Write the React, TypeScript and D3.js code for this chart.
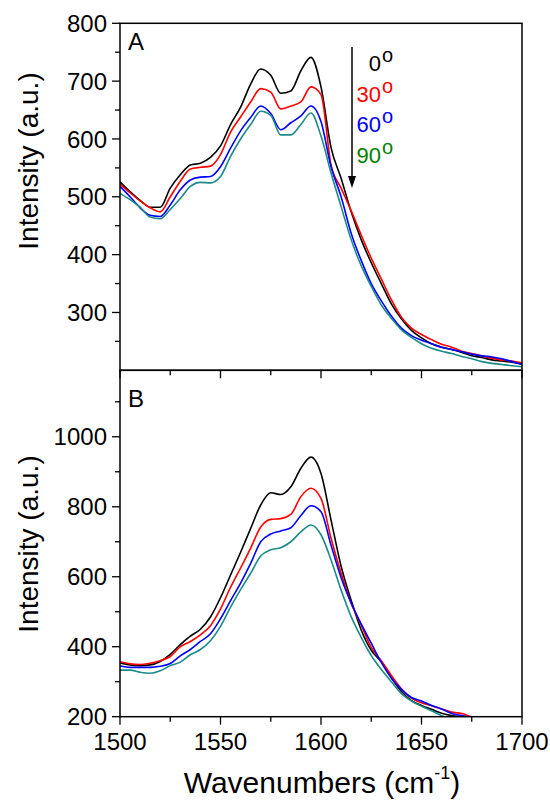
import React from 'react';
import * as d3 from 'd3';

// wavenumber grid (cm-1)
const wavenumbers = [
  1500, 1505, 1510, 1515, 1520, 1525, 1530, 1535, 1540, 1545,
  1550, 1555, 1560, 1565, 1570, 1575, 1580, 1585, 1590, 1595,
  1600, 1605, 1610, 1615, 1620, 1625, 1630, 1635, 1640, 1645,
  1650, 1655, 1660, 1665, 1670, 1675, 1680, 1685, 1690, 1695, 1700,
];

// panel A
const a0 = [
  526, 509, 494, 482, 482, 515, 538, 555, 558, 568,
  588, 625, 655, 695, 721, 710, 679, 683, 718, 741,
  690, 585, 532, 474, 426, 386, 350, 315, 289, 269,
  256, 246, 240, 236, 231, 225, 222, 218, 216, 214, 211,
];
const a30 = [
  522, 507, 493, 481, 474, 500, 527, 548, 551, 553,
  573, 612, 638, 664, 687, 681, 652, 657, 664, 690,
  677, 555, 515, 476, 434, 394, 358, 322, 292, 273,
  262, 253, 245, 240, 233, 229, 225, 221, 218, 216, 213,
];
const a60 = [
  518, 500, 481, 468, 466, 486, 512, 529, 534, 535,
  552, 584, 614, 637, 657, 644, 616, 628, 640, 657,
  630, 552, 500, 437, 390, 350, 320, 294, 273, 260,
  252, 246, 240, 236, 232, 228, 225, 223, 220, 215, 210,
];
const a90 = [
  506, 495, 482, 465, 462, 478, 497, 518, 525, 524,
  535, 570, 600, 625, 648, 641, 607, 607, 625, 645,
  605, 541, 483, 426, 381, 345, 313, 290, 270, 257,
  246, 238, 233, 229, 224, 220, 215, 212, 210, 208, 206,
];

// panel B
const b0 = [
  354, 348, 346, 348, 358, 378, 406, 430, 450, 485,
  540, 605, 670, 738, 805, 840, 835, 857, 910, 942,
  895, 762, 630, 533, 448, 390, 357, 312, 272, 246,
  232, 221, 210, 203, 199, 195, 190, 186, 183, 180, 178,
];
const b30 = [
  357, 351, 349, 353, 360, 372, 400, 415, 434, 460,
  508, 570, 625, 682, 742, 764, 766, 778, 829, 853,
  824, 710, 610, 524, 462, 398, 360, 318, 280, 253,
  240, 231, 222, 213, 209, 200, 195, 191, 188, 185, 182,
];
const b60 = [
  345, 341, 341, 341, 344, 352, 374, 392, 415, 437,
  480, 532, 582, 638, 700, 722, 731, 740, 775, 803,
  786, 690, 597, 525, 465, 410, 355, 310, 278, 255,
  245, 232, 222, 209, 203, 197, 193, 189, 186, 183, 180,
];
const b90 = [
  333, 333, 327, 324, 331, 346, 356, 377, 392, 417,
  458, 513, 563, 610, 659, 677, 683, 700, 728, 748,
  720, 648, 562, 486, 427, 375, 335, 300, 266, 245,
  230, 217, 203, 195, 190, 186, 183, 180, 178, 176, 174,
];

const lineColors = ['#000000', '#ff0000', '#0000ff', '#1b8a8a'];
const legendLabels = ['0', '30', '60', '90'];
const legendColors = ['#000000', '#ff0000', '#0000ff', '#008000'];

const xMajor = [1500, 1550, 1600, 1650, 1700];
const xMinor = [1525, 1575, 1625, 1675];
const yMajorA = [300, 400, 500, 600, 700, 800];
const yMinorA = [250, 350, 450, 550, 650, 750];
const yMajorB = [200, 400, 600, 800, 1000];
const yMinorB = [300, 500, 700, 900, 1100];

const W = 550;
const H = 803;
const left = 120;
const right = 522;
const topA = 23.3;
const mid = 370.3;
const bottomB = 716.7;
const font = '"Liberation Sans", Arial, sans-serif';

const x = d3.scaleLinear().domain([1500, 1700]).range([left, right]);

function Panel({ id, y, series, letter, letterY, major, minor }) {
  const [y0, y1] = y.range();
  const line = d3
    .line<number>()
    .x((_, i) => x(wavenumbers[i]))
    .y((d) => y(d))
    .curve(d3.curveMonotoneX);
  return (
    <g>
      <clipPath id={id}>
        <rect x={left} y={y1} width={right - left} height={y0 - y1} />
      </clipPath>
      <g clipPath={`url(#${id})`}>
        {series.map((s, i) => (
          <path key={i} d={line(s)} fill="none" stroke={lineColors[i]} strokeWidth={1.6} />
        ))}
      </g>
      <rect x={left} y={y1} width={right - left} height={y0 - y1} fill="none" stroke="#000" strokeWidth={1.5} />
      {major.map((t) => (
        <g key={'ym' + t}>
          <line x1={left - 8} x2={left} y1={y(t)} y2={y(t)} stroke="#000" strokeWidth={1.3} />
          <text x={107} y={y(t)} dy="0.36em" textAnchor="end" fontSize={24} fontFamily={font}>
            {t}
          </text>
        </g>
      ))}
      {minor.map((t) => (
        <line key={'yn' + t} x1={left - 5} x2={left} y1={y(t)} y2={y(t)} stroke="#000" strokeWidth={1.3} />
      ))}
      {xMajor.map((t) => (
        <line key={'xm' + t} x1={x(t)} x2={x(t)} y1={y0} y2={y0 + 8} stroke="#000" strokeWidth={1.3} />
      ))}
      {xMinor.map((t) => (
        <line key={'xn' + t} x1={x(t)} x2={x(t)} y1={y0} y2={y0 + 5} stroke="#000" strokeWidth={1.3} />
      ))}
      <text x={128} y={letterY} fontSize={24} fontFamily={font}>
        {letter}
      </text>
    </g>
  );
}

export default function App() {
  const yA = d3.scaleLinear().domain([200, 800]).range([mid, topA]);
  const yB = d3.scaleLinear().domain([200, 1190]).range([bottomB, mid]);

  return (
    <svg width={W} height={H} style={{ position: 'absolute', left: 0, top: 0, background: '#fff' }}>
      <Panel id="clipA" y={yA} series={[a0, a30, a60, a90]} letter="A" letterY={50}
        major={yMajorA} minor={yMinorA} />
      <Panel id="clipB" y={yB} series={[b0, b30, b60, b90]} letter="B" letterY={407}
        major={yMajorB} minor={yMinorB} />

      {/* x tick labels */}
      {xMajor.map((t) => (
        <text key={t} x={x(t)} y={750} textAnchor="middle" fontSize={24} fontFamily={font}>
          {t}
        </text>
      ))}

      {/* axis titles */}
      <text transform="translate(38,161) rotate(-90)" textAnchor="middle" fontSize={28} fontFamily={font}>
        Intensity (a.u.)
      </text>
      <text transform="translate(38,544) rotate(-90)" textAnchor="middle" fontSize={28} fontFamily={font}>
        Intensity (a.u.)
      </text>
      <text x={322} y={793} textAnchor="middle" fontSize={30} fontFamily={font}>
        Wavenumbers (cm<tspan fontSize={18} dy={-14}>-1</tspan>
        <tspan dy={14}>)</tspan>
      </text>

      {/* legend arrow */}
      <line x1={352} x2={352} y1={47} y2={178} stroke="#000" strokeWidth={1.5} />
      <path d="M348,176 L356,176 L352,188 Z" fill="#000" />
      {legendLabels.map((l, i) => (
        <g key={l}>
          <text x={381} y={71 + i * 30.5} textAnchor="end" fontSize={22} fontFamily={font} fill={legendColors[i]}>
            {l}
          </text>
          <text x={382} y={62 + i * 30.5} fontSize={20} fontFamily={font} fill={legendColors[i]}>
            o
          </text>
        </g>
      ))}
    </svg>
  );
}
